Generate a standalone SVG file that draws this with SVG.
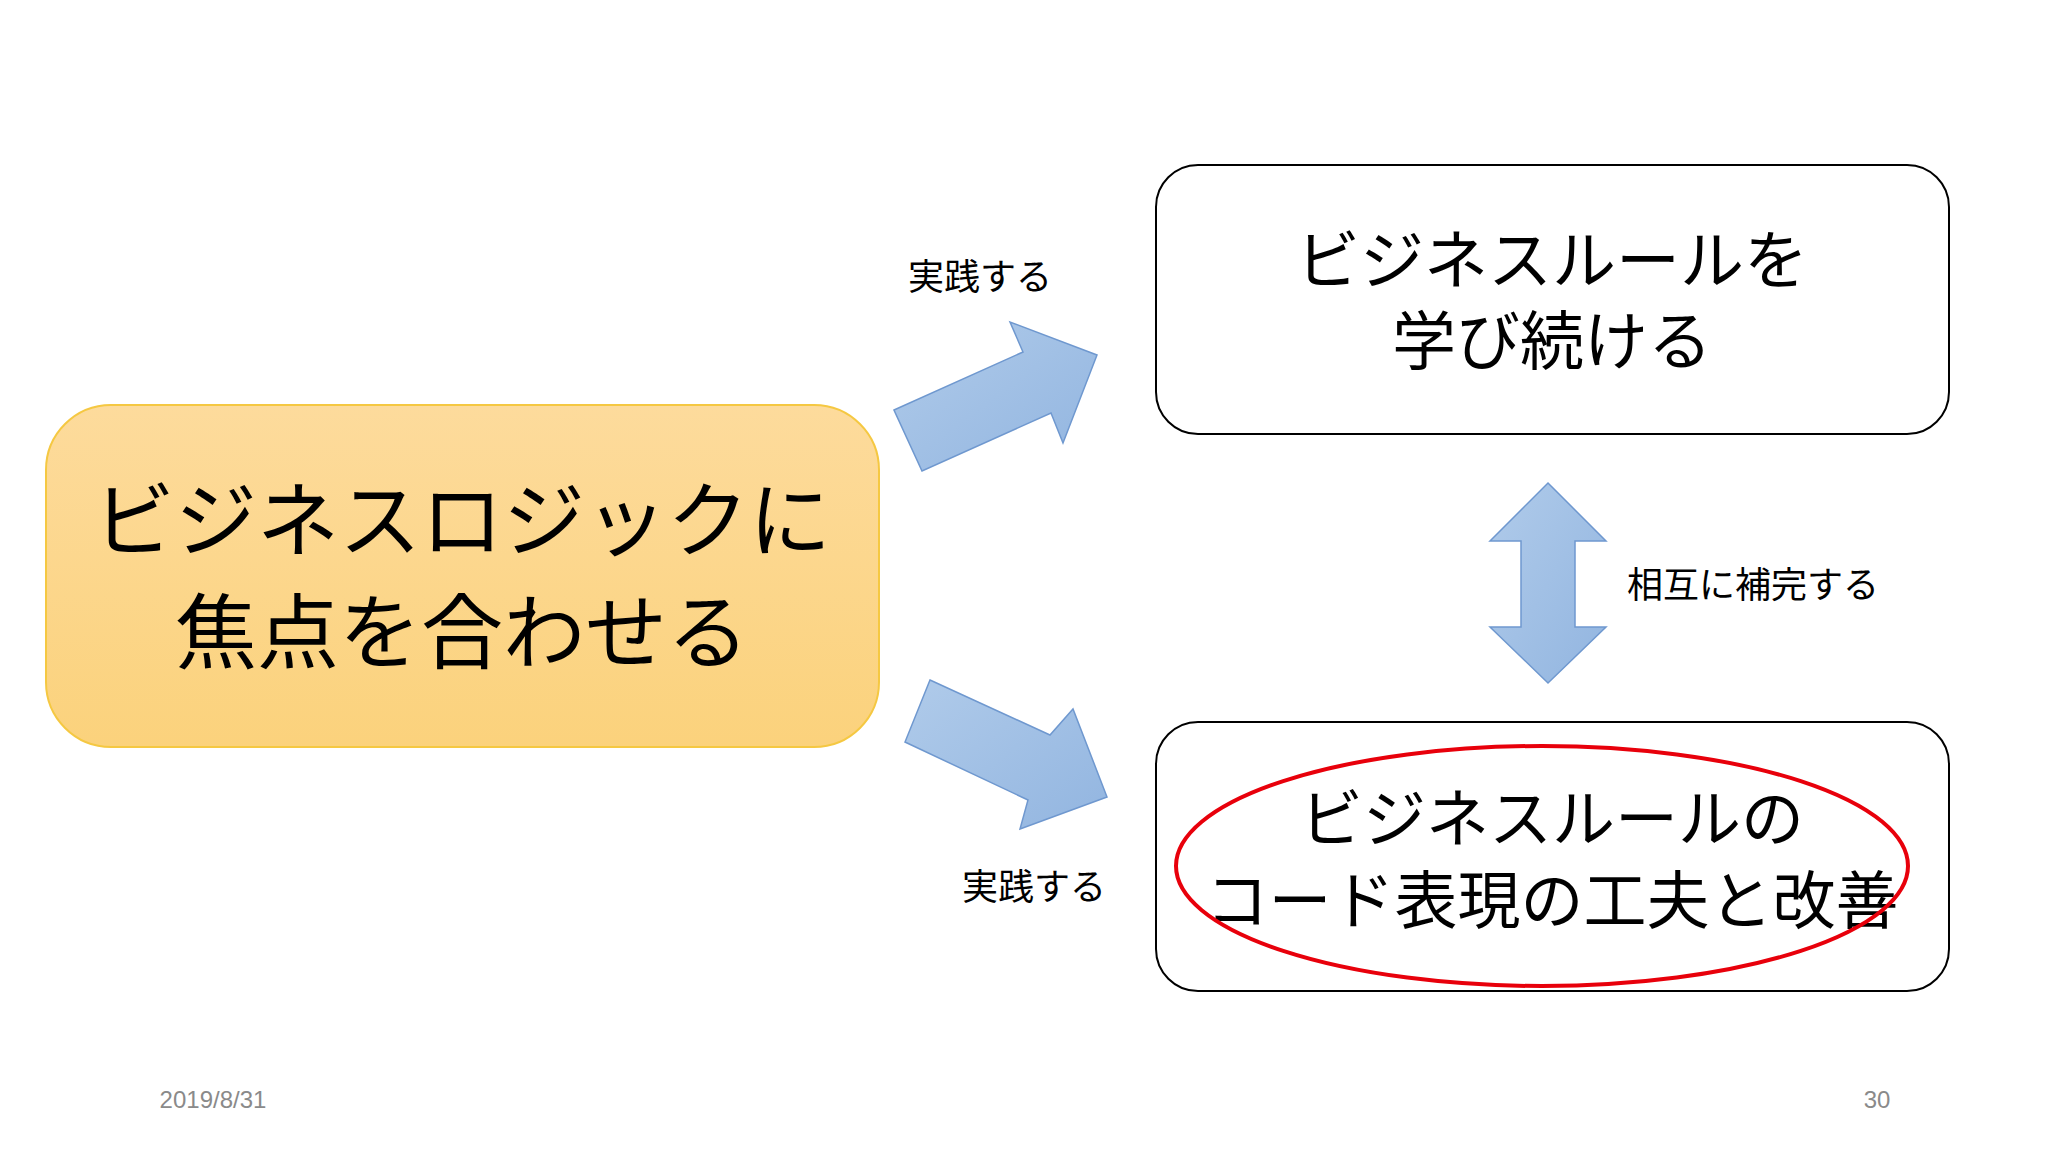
<svg xmlns="http://www.w3.org/2000/svg" width="2048" height="1152" viewBox="0 0 2048 1152">
<defs>
<linearGradient id="og" x1="0" y1="0" x2="0" y2="1"><stop offset="0" stop-color="#fddb9c"/><stop offset="1" stop-color="#fbd27c"/></linearGradient>
<linearGradient id="bg" x1="0" y1="0" x2="1" y2="1"><stop offset="0" stop-color="#b0cbea"/><stop offset="1" stop-color="#92b5e0"/></linearGradient>
<style>
text{font-family:"Noto Sans CJK JP","Liberation Sans",sans-serif;fill:#000;text-anchor:middle}
.box{fill:#fff;stroke:#000;stroke-width:2}
.arr{fill:url(#bg);stroke:#6f98cf;stroke-width:1.5}
.lbl{font-size:36px}
.foot{font-family:"Liberation Sans",sans-serif;font-size:24px;fill:#8a8a8a}
</style>
</defs>
<rect width="2048" height="1152" fill="#fff"/>
<g id="focus">
<rect x="46" y="405" width="833" height="342" rx="65" fill="url(#og)" stroke="#f5c842" stroke-width="2"/>
<text x="462" y="550" font-size="82">ビジネスロジックに</text>
<text x="462" y="662" font-size="82">焦点を合わせる</text>
</g>
<g id="learn">
<rect class="box" x="1156" y="165" width="793" height="269" rx="42"/>
<text x="1552" y="283" font-size="64">ビジネスルールを</text>
<text x="1552" y="364" font-size="64">学び続ける</text>
</g>
<g id="code">
<rect class="box" x="1156" y="722" width="793" height="269" rx="42"/>
<text x="1552" y="841" font-size="63">ビジネスルールの</text>
<text x="1552" y="923" font-size="63">コード表現の工夫と改善</text>
<ellipse cx="1542" cy="866" rx="366" ry="120" fill="none" stroke="#e8000b" stroke-width="4"/>
</g>
<g id="connectors">
<polygon class="arr" points="894,410 1023,352 1010,322 1097,355 1063,443 1051,413 922,471"/>
<polygon class="arr" points="930,680 1050,735 1073,709 1107,797 1020,829 1028,800 905,742"/>
<polygon class="arr" points="1548,483 1606,541 1575,541 1575,627 1606,627 1548,683 1490,627 1521,627 1521,541 1490,541"/>
</g>
<g id="labels">
<text class="lbl" x="980" y="290">実践する</text>
<text class="lbl" x="1034" y="900">実践する</text>
<text class="lbl" x="1753" y="598">相互に補完する</text>
</g>
<text class="foot" x="213" y="1108">2019/8/31</text>
<text class="foot" x="1877" y="1108">30</text>
</svg>
